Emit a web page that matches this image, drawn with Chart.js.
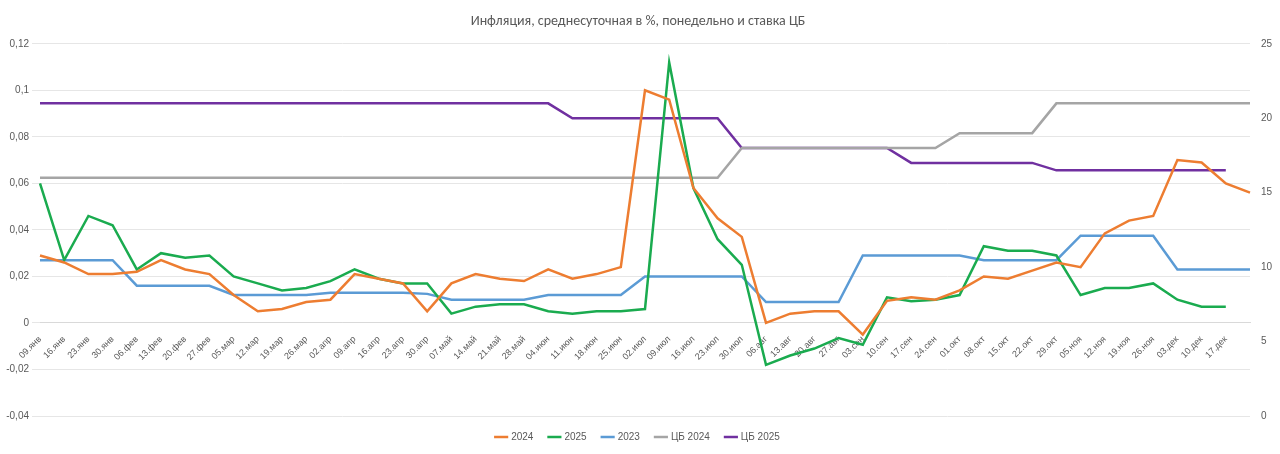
<!DOCTYPE html>
<html>
<head>
<meta charset="utf-8">
<script src="https://cdn.jsdelivr.net/npm/chart.js@4/dist/chart.umd.min.js"></script>
<style>
  body { margin: 0; background: #fff; }
  #wrap { width: 1280px; height: 454px; }
</style>
</head>
<body>
<div id="wrap"><canvas id="grafico"></canvas></div>
<script>
const weeks = ["09.янв","16.янв","23.янв","30.янв","06.фев","13.фев","20.фев","27.фев","05.мар","12.мар",
  "19.мар","26.мар","02.апр","09.апр","16.апр","23.апр","30.апр","07.май","14.май","21.май",
  "28.май","04.июн","11.июн","18.июн","25.июн","02.июл","09.июл","16.июл","23.июл","30.июл",
  "06.авг","13.авг","20.авг","27.авг","03.сен","10.сен","17.сен","24.сен","01.окт","08.окт",
  "15.окт","22.окт","29.окт","05.ноя","12.ноя","19.ноя","26.ноя","03.дек","10.дек","17.дек",""];

const infl2024 = [0.029,0.026,0.021,0.021,0.022,0.027,0.023,0.021,0.012,0.005,
  0.006,0.009,0.010,0.021,0.019,0.017,0.005,0.017,0.021,0.019,
  0.018,0.023,0.019,0.021,0.024,0.100,0.096,0.058,0.045,0.037,
  0.000,0.004,0.005,0.005,-0.005,0.0095,0.011,0.010,0.014,0.020,
  0.019,0.0225,0.026,0.024,0.0385,0.044,0.046,0.070,0.069,0.060,0.056];

const infl2025 = [0.060,0.027,0.046,0.042,0.023,0.030,0.028,0.029,0.020,0.017,
  0.014,0.015,0.018,0.023,0.019,0.017,0.017,0.004,0.007,0.008,
  0.008,0.005,0.004,0.005,0.005,0.006,0.112,0.058,0.036,0.025,
  -0.018,-0.014,-0.011,-0.0065,-0.0094,0.011,0.0093,0.010,0.012,0.033,
  0.031,0.031,0.029,0.012,0.015,0.015,0.017,0.010,0.007,0.007,null];

const infl2023 = [0.027,0.027,0.027,0.027,0.016,0.016,0.016,0.016,0.012,0.012,
  0.012,0.012,0.013,0.013,0.013,0.013,0.0125,0.010,0.010,0.010,
  0.010,0.012,0.012,0.012,0.012,0.020,0.020,0.020,0.020,0.020,
  0.009,0.009,0.009,0.009,0.029,0.029,0.029,0.029,0.029,0.027,
  0.027,0.027,0.027,0.0375,0.0375,0.0375,0.0375,0.023,0.023,0.023,0.023];

const cb2024 = [16,16,16,16,16,16,16,16,16,16,16,16,16,16,16,16,16,16,16,16,
  16,16,16,16,16,16,16,16,16,18,18,18,18,18,18,18,18,18,19,19,
  19,19,21,21,21,21,21,21,21,21,21];

const cb2025 = [21,21,21,21,21,21,21,21,21,21,21,21,21,21,21,21,21,21,21,21,
  21,21,20,20,20,20,20,20,20,18,18,18,18,18,18,18,17,17,17,17,
  17,17,16.5,16.5,16.5,16.5,16.5,16.5,16.5,16.5,null];

const txt = "#595959";
function ds(label, data, color, axis) {
  return { label, data, borderColor: color, backgroundColor: color, borderWidth: 2.5,
    pointRadius: 0, tension: 0, yAxisID: axis, spanGaps: false };
}

new Chart(document.getElementById("grafico"), {
  type: "line",
  data: {
    labels: weeks,
    datasets: [
      ds("2024", infl2024, "#ED7D31", "y"),
      ds("2025", infl2025, "#1AAB4F", "y"),
      ds("2023", infl2023, "#5B9BD5", "y"),
      ds("ЦБ 2024", cb2024, "#A5A5A5", "y2"),
      ds("ЦБ 2025", cb2025, "#7030A0", "y2")
    ]
  },
  options: {
    animation: false,
    responsive: true,
    maintainAspectRatio: false,
    layout: { padding: { left: 0, right: 4, top: 0, bottom: 2 } },
    plugins: {
      title: { display: true, text: "Инфляция, среднесуточная в %, понедельно и ставка ЦБ",
        color: txt, font: { family: "Calibri, Carlito, 'Liberation Sans', sans-serif", size: 14, weight: "normal" },
        padding: { top: 13, bottom: 14 } },
      legend: { position: "bottom",
        labels: { usePointStyle: true, pointStyle: "line", boxWidth: 22, color: txt, padding: 16,
          font: { family: "'Liberation Sans', sans-serif", size: 10 } } },
      tooltip: { enabled: false }
    },
    scales: {
      x: {
        position: { y: 0 },
        grid: { display: false },
        border: { color: "#d9d9d9" },
        ticks: { color: txt, autoSkip: false, minRotation: 45, maxRotation: 45,
          font: { family: "'Liberation Sans', sans-serif", size: 9 } }
      },
      y: {
        min: -0.04, max: 0.12,
        afterFit: s => { s.width = 40; },
        border: { display: false },
        grid: { color: "#e6e6e6" },
        ticks: { stepSize: 0.02, color: txt, font: { family: "'Liberation Sans', sans-serif", size: 10 },
          callback: v => Math.abs(v) < 1e-9 ? "0" : String(Math.round(v * 100) / 100).replace(".", ",") }
      },
      y2: {
        position: "right",
        min: 0, max: 25,
        afterFit: s => { s.width = 26; },
        border: { display: false },
        grid: { display: false },
        ticks: { stepSize: 5, color: txt, font: { family: "'Liberation Sans', sans-serif", size: 10 } }
      }
    }
  }
});
</script>
</body>
</html>
